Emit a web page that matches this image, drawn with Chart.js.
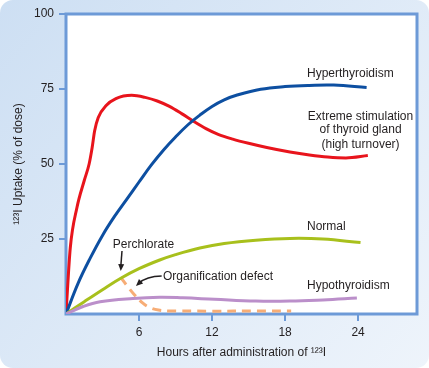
<!DOCTYPE html>
<html>
<head>
<meta charset="utf-8">
<script src="https://cdn.jsdelivr.net/npm/chart.js@4"></script>
<style>
    html, body { margin: 0; padding: 0; background: #fff; }
</style>
</head>
<body>
<canvas id="myChart" width="429" height="368"></canvas>
<script>
// values (hours, % uptake)
const extremeHours = [0, 0.35, 0.9, 1.5, 1.9, 2.15, 2.35, 2.65, 3.3, 4.1, 5.4, 6.5, 7.5, 8.5, 9.5, 10.5, 11.5, 12.5, 13.7, 15, 16.5, 18.4, 20, 21.5, 23, 24.8];
const extremeUptake = [0, 22, 35.5, 44.5, 50, 55.5, 61, 65.5, 69.5, 71.8, 72.9, 72.2, 71, 69.2, 66.8, 64.2, 61.8, 59.9, 58.3, 56.9, 55.5, 54, 53, 52.3, 52, 52.8];

const hyperHours = [0, 1, 2, 3, 4, 5, 6, 7, 8, 9, 10, 11, 12, 13, 14, 16, 18, 20, 22, 24.7];
const hyperUptake = [0, 10.3, 18.7, 26.2, 32.6, 38.3, 44, 49.6, 54.6, 59, 63, 66.3, 69.2, 71.4, 72.9, 74.9, 75.8, 76.2, 76.3, 75.5];

const normalHours = [0, 1.5, 3, 4.5, 6, 7.7, 9, 11, 13, 15.6, 18.4, 21.1, 24.2];
const normalUptake = [0, 4.1, 8.1, 11.9, 15.1, 18, 19.8, 22, 23.5, 24.6, 25.2, 25, 23.8];

const hypoHours = [0, 1.4, 2.8, 5.5, 7.7, 9.6, 12.2, 15.6, 18.4, 21.1, 23.9];
const hypoUptake = [0, 2.5, 4.1, 5.2, 5.6, 5.4, 4.9, 4.3, 4.3, 4.7, 5.3];

const defectHours = [4.5, 5.0, 5.6, 6.2, 6.8, 7.6, 9, 18.5];
const defectUptake = [12.2, 9.5, 6.5, 4.0, 2.3, 1.3, 1.0, 1.0];

const xTicks = [6, 12, 18, 24];
const yTicks = [25, 50, 75, 100];

const FONT = "'Liberation Sans', Arial, Helvetica, sans-serif";
const AXIS_BLUE = '#6d9ad7';
const INK = '#231f20';

function pts(hs, vs) {
    return hs.map((h, i) => ({ x: h, y: vs[i] }));
}

// text labels, anchored in chart units
const labels = [
    { text: 'Hyperthyroidism', x: 19.8, y: 80, align: 'left' },
    { text: 'Extreme stimulation', x: 24.2, y: 65.7, align: 'center' },
    { text: 'of thyroid gland', x: 24.2, y: 61.6, align: 'center' },
    { text: '(high turnover)', x: 24.2, y: 56.6, align: 'center' },
    { text: 'Normal', x: 19.8, y: 29, align: 'left' },
    { text: 'Hypothyroidism', x: 19.8, y: 9.3, align: 'left' },
    { text: 'Organification defect', x: 7.97, y: 12.4, align: 'left' },
    { text: 'Perchlorate', x: 6.37, y: 23, align: 'center' }
];

function arrowHead(c, fx, fy, tx, ty) {
    const a = Math.atan2(ty - fy, tx - fx);
    const len = 7, w = 3;
    c.beginPath();
    c.moveTo(tx, ty);
    c.lineTo(tx - len * Math.cos(a) + w * Math.sin(a), ty - len * Math.sin(a) - w * Math.cos(a));
    c.lineTo(tx - len * Math.cos(a) - w * Math.sin(a), ty - len * Math.sin(a) + w * Math.cos(a));
    c.closePath();
    c.fill();
}

const decor = {
    id: 'decor',
    beforeDraw(chart) {
        const c = chart.ctx;
        const W = chart.width, H = chart.height;
        c.save();
        c.fillStyle = '#fff';
        c.fillRect(0, 0, W, H);
        const g = c.createLinearGradient(0, 0, W, H);
        g.addColorStop(0, '#cddff3');
        g.addColorStop(1, '#eef4fb');
        c.fillStyle = g;
        c.beginPath();
        c.roundRect(0, 0, W, H, 13);
        c.fill();
        const a = chart.chartArea;
        c.fillStyle = '#fff';
        c.fillRect(a.left, a.top, a.right - a.left, a.bottom - a.top);
        c.restore();
    },
    beforeDatasetsDraw(chart) {
        const c = chart.ctx;
        const a = chart.chartArea;
        c.save();
        c.strokeStyle = AXIS_BLUE;
        c.lineWidth = 3;
        c.strokeRect(a.left, a.top, a.right - a.left, a.bottom - a.top);
        c.restore();
    },
    afterDatasetsDraw(chart) {
        const c = chart.ctx;
        const xs = chart.scales.x, ys = chart.scales.y;
        c.save();
        c.fillStyle = INK;
        c.strokeStyle = INK;
        c.font = '12px ' + FONT;
        c.textBaseline = 'middle';
        labels.forEach(l => {
            c.textAlign = l.align;
            c.fillText(l.text, xs.getPixelForValue(l.x), ys.getPixelForValue(l.y));
        });

        // Perchlorate arrow
        c.lineWidth = 1.5;
        let fx = xs.getPixelForValue(4.6), fy = ys.getPixelForValue(21);
        let tx = xs.getPixelForValue(4.5), ty = ys.getPixelForValue(14.3);
        c.beginPath();
        c.moveTo(fx, fy);
        c.lineTo(tx, ty - 4);
        c.stroke();
        arrowHead(c, fx, fy, tx, ty);

        // Organification defect arrow
        fx = xs.getPixelForValue(7.86); fy = ys.getPixelForValue(12.7);
        const cx = xs.getPixelForValue(6.6), cy = ys.getPixelForValue(12.6);
        tx = xs.getPixelForValue(5.75); ty = ys.getPixelForValue(9.3);
        c.beginPath();
        c.moveTo(fx, fy);
        c.quadraticCurveTo(cx, cy, tx + 3, ty - 3);
        c.stroke();
        arrowHead(c, cx, cy, tx, ty);
        c.restore();
    }
};

function line(data, color, opts) {
    return Object.assign({
        data: data,
        borderColor: color,
        borderWidth: 3,
        pointRadius: 0,
        fill: false,
        tension: 0.4
    }, opts || {});
}

const ctx = document.getElementById('myChart').getContext('2d');
const myChart = new Chart(ctx, {
    type: 'line',
    data: {
        datasets: [
            line(pts(hypoHours, hypoUptake), '#bb8fca'),
            line(pts(normalHours, normalUptake), '#a8c01c'),
            line(pts(defectHours, defectUptake), '#f7ad76', { borderDash: [9, 6] }),
            line(pts(hyperHours, hyperUptake), '#0d4fa1'),
            line(pts(extremeHours, extremeUptake), '#e8141c', { cubicInterpolationMode: 'monotone' })
        ]
    },
    options: {
        responsive: false,
        animation: false,
        layout: {
            padding: { top: 14, right: 12, left: 0, bottom: 0 }
        },
        scales: {
            x: {
                type: 'linear',
                min: 0,
                max: 28.84,
                afterFit: s => { s.height = 54; },
                afterBuildTicks: s => { s.ticks = xTicks.map(v => ({ value: v })); },
                grid: {
                    drawOnChartArea: false,
                    drawTicks: true,
                    tickLength: 7,
                    color: AXIS_BLUE,
                    lineWidth: 2
                },
                border: { display: false },
                ticks: {
                    color: INK,
                    padding: 4,
                    maxRotation: 0,
                    font: { family: FONT, size: 12 }
                },
                title: {
                    display: true,
                    text: 'Hours after administration of ¹²³I',
                    color: INK,
                    padding: { top: 4, bottom: 8 },
                    font: { family: FONT, size: 12 }
                }
            },
            y: {
                min: 0,
                max: 100,
                afterFit: s => { s.width = 66; },
                afterBuildTicks: s => { s.ticks = yTicks.map(v => ({ value: v })); },
                grid: {
                    drawOnChartArea: false,
                    drawTicks: true,
                    tickLength: 7,
                    color: AXIS_BLUE,
                    lineWidth: 2
                },
                border: { display: false },
                ticks: {
                    color: INK,
                    padding: 5,
                    font: { family: FONT, size: 12 }
                },
                title: {
                    display: true,
                    text: '¹²³I Uptake (% of dose)',
                    color: INK,
                    padding: { top: 11, bottom: 0 },
                    font: { family: FONT, size: 12 }
                }
            }
        },
        plugins: {
            legend: { display: false },
            tooltip: { enabled: false }
        }
    },
    plugins: [decor]
});
</script>
</body>
</html>
